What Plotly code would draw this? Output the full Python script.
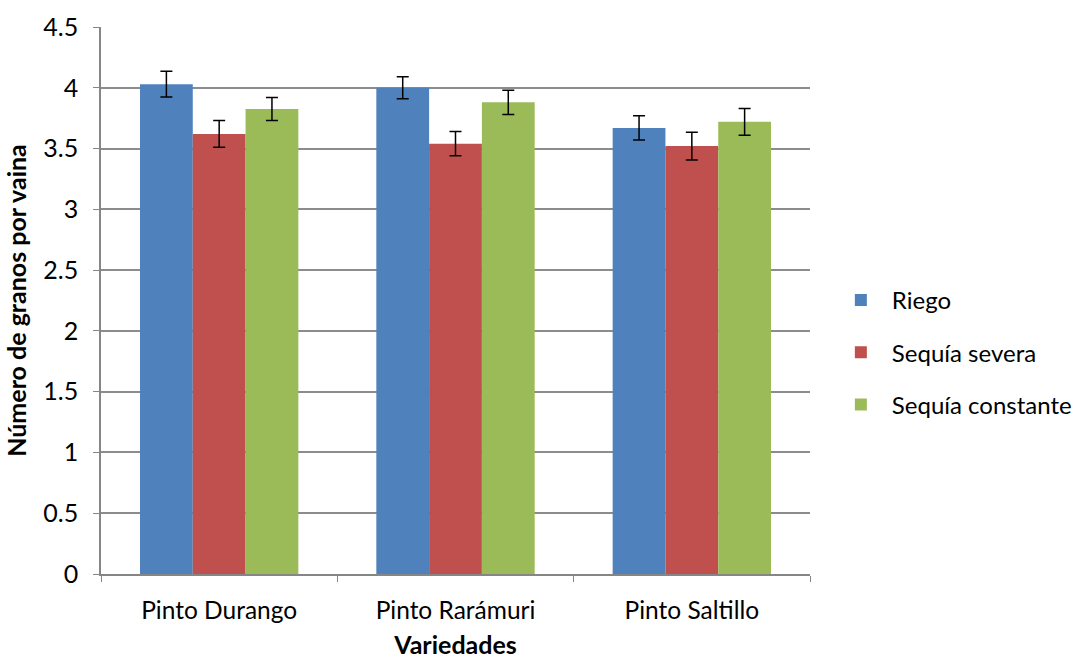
import plotly.graph_objects as go

categories = ["Pinto Durango", "Pinto Rarámuri", "Pinto Saltillo"]
series_names = ["Riego", "Sequía severa", "Sequía constante"]
riego = [4.03, 4.00, 3.67]
riego_err = [0.105, 0.09, 0.10]
severa = [3.62, 3.54, 3.52]
severa_err = [0.11, 0.10, 0.115]
constante = [3.825, 3.88, 3.72]
constante_err = [0.095, 0.10, 0.11]
colors = ["#4F81BD", "#C0504D", "#9BBB59"]

FONT = "Lato"
fig = go.Figure()
for i, (name, vals, errs) in enumerate(zip(series_names, [riego, severa, constante],
                                           [riego_err, severa_err, constante_err])):
    fig.add_trace(go.Bar(
        x=categories, y=vals, name=name, legendgroup=name,
        marker=dict(color=colors[i], line=dict(width=0)),
        error_y=dict(type="data", array=errs, visible=True, color="black",
                     thickness=1.5, width=6),
    ))

fig.update_layout(
    width=1079, height=659,
    barmode="group", bargap=0.33, bargroupgap=0,
    plot_bgcolor="white", paper_bgcolor="white",
    margin=dict(l=101, r=269, t=27, b=85, autoexpand=False),
    font=dict(family=FONT, size=24, color="black"),
    legend=dict(x=1.028, y=0.405, xanchor="left", yanchor="middle",
                tracegroupgap=18, itemwidth=52, font=dict(size=24)),
    xaxis=dict(
        showline=True, linecolor="#868686", linewidth=1.5,
        ticks="outside", tickson="boundaries", ticklen=6, tickcolor="#868686",
        tickfont=dict(size=24.5), ticklabelstandoff=14,
        title=dict(text="<b>Variedades</b>", font=dict(size=25), standoff=20),
    ),
    yaxis=dict(
        range=[0, 4.5], dtick=0.5,
        showgrid=True, gridcolor="#8C8C8C", gridwidth=1.5,
        showline=True, linecolor="#868686", linewidth=1.5,
        ticks="outside", ticklen=6, tickcolor="#868686",
        tickfont=dict(size=25), zeroline=False, ticklabelstandoff=10,
        title=dict(text="<b>Número de granos por vaina</b>", font=dict(size=25), standoff=10),
    ),
)

fig.write_html("out.html", config={"displayModeBar": False},
               post_script="document.body.style.margin='0';document.body.style.overflow='hidden';")
